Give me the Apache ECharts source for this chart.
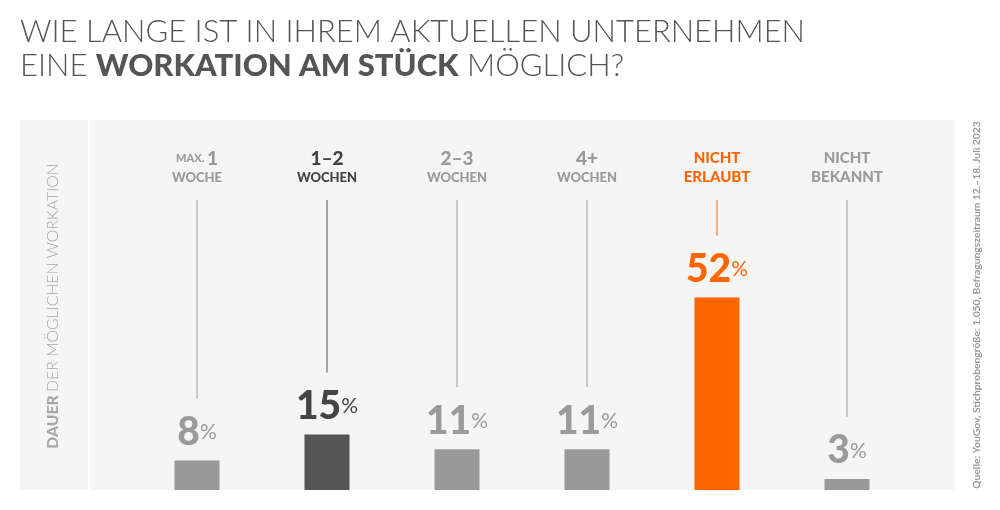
<!DOCTYPE html>
<html lang="de">
<head>
<meta charset="UTF-8">
<title>Workation am Stück</title>
<script src="https://cdn.jsdelivr.net/npm/echarts@6/dist/echarts.min.js"></script>
<style>
  html, body { margin: 0; padding: 0; background: #fff; }
  #chart { width: 1000px; height: 510px; }
</style>
</head>
<body>
<div id="chart"></div>
<script>
// Daten
var categories = ['MAX. 1\nWOCHE', '1–2\nWOCHEN', '2–3\nWOCHEN', '4+\nWOCHEN', 'NICHT\nERLAUBT', 'NICHT\nBEKANNT'];
var values = [8, 15, 11, 11, 52, 3];
var tones = ['g', 'd', 'g', 'g', 'o', 'g'];   // grau / dunkel / orange

var colors = { g: '#999999', d: '#555555', o: '#ff6600' };
var textColors = { g: '#9a9a9a', d: '#444444', o: '#ff6600' };
var lineTop = 78.4;   // oberes Ende der Hilfslinien (Achsenwert)
var font = 'Lato, "Open Sans", sans-serif';

var chart = echarts.init(document.getElementById('chart'));

// rich styles fuer Kategorie- und Wertebeschriftung
var axisRich = {}, valueRich = {};
['g', 'd', 'o'].forEach(function(t) {
  axisRich[t + 'big'] = { fontFamily: font, fontWeight: 900, fontSize: 19, color: textColors[t], lineHeight: 19 };
  axisRich[t + 'mid'] = { fontFamily: font, fontWeight: 900, fontSize: 15, color: textColors[t], lineHeight: 19 };
  axisRich[t + 'sm'] = { fontFamily: font, fontWeight: 900, fontSize: 13, color: textColors[t], lineHeight: 19 };
  axisRich[t + 'xs'] = { fontFamily: font, fontWeight: 900, fontSize: 11, color: textColors[t], lineHeight: 19 };
  valueRich['n' + t] = { fontFamily: font, fontWeight: 900, fontSize: 39, color: textColors[t], lineHeight: 40 };
  valueRich['p' + t] = { fontFamily: font, fontWeight: 400, fontSize: 21, color: textColors[t], lineHeight: 40 };
});

function axisFormatter(value, index) {
  var t = tones[index];
  var lines = value.split('\n');
  var first = lines[0];
  var top;
  if (first.indexOf('MAX.') === 0) {
    top = '{' + t + 'xs|MAX. }{' + t + 'big|' + first.slice(5) + '}';
  } else if (/^[0-9]/.test(first)) {
    top = '{' + t + 'big|' + first + '}';
  } else {
    top = '{' + t + 'mid|' + first + '}';
  }
  var bottom = /^[0-9]/.test(first) || first.indexOf('MAX.') === 0
    ? '{' + t + 'sm|' + lines[1] + '}'
    : '{' + t + 'mid|' + lines[1] + '}';
  return top + '\n' + bottom;
}

var option = {
  backgroundColor: '#ffffff',
  animation: false,
  title: {
    left: 15,
    top: 10,
    text: '{l|WIE LANGE IST IN IHREM AKTUELLEN UNTERNEHMEN}\n{l|EINE }{b|WORKATION AM STÜCK}{l| MÖGLICH?}',
    textStyle: {
      rich: {
        l: { fontFamily: font, fontWeight: 300, fontSize: 31, color: '#555555', lineHeight: 34 },
        b: { fontFamily: font, fontWeight: 900, fontSize: 31, color: '#555555', lineHeight: 34 }
      }
    }
  },
  graphic: [
    { type: 'rect', z: -10, shape: { x: 20, y: 120, width: 935, height: 370 }, style: { fill: '#f5f5f5' } },
    { type: 'rect', z: -9, shape: { x: 88, y: 120, width: 2, height: 370 }, style: { fill: '#ffffff' } },
    {
      type: 'text', x: 53, y: 306, rotation: Math.PI / 2,
      style: {
        text: '{b|DAUER} {l|DER MÖGLICHEN WORKATION}',
        align: 'center', verticalAlign: 'middle',
        rich: {
          b: { fontFamily: font, fontWeight: 900, fontSize: 15.8, fill: '#a8a8a8' },
          l: { fontFamily: font, fontWeight: 300, fontSize: 15.8, fill: '#a8a8a8' }
        }
      }
    },
    {
      type: 'text', x: 977, y: 305, rotation: Math.PI / 2,
      style: {
        text: 'Quelle: YouGov, Stichprobengröße: 1.050, Befragungszeitraum 12.–18. Juli 2023',
        align: 'center', verticalAlign: 'middle',
        fontFamily: font, fontWeight: 700, fontSize: 10.3, fill: '#9a9a9a'
      }
    }
  ],
  grid: { left: 132, right: 88, top: 120, bottom: 20 },
  xAxis: {
    type: 'category',
    data: categories,
    position: 'top',
    offset: -67,
    axisLine: { show: false },
    axisTick: { show: false },
    splitLine: { show: false },
    axisLabel: { interval: 0, margin: 0, verticalAlign: 'bottom', formatter: axisFormatter, rich: axisRich }
  },
  yAxis: {
    type: 'value',
    min: 0,
    max: 100,
    show: false
  },
  series: [
    {
      type: 'bar',
      barWidth: 45,
      data: values.map(function(v, i) {
        return { value: v, itemStyle: { color: colors[tones[i]] } };
      }),
      label: {
        show: true,
        position: 'top',
        distance: 8,
        formatter: function(p) {
          var t = tones[p.dataIndex];
          return '{n' + t + '|' + p.value + '}{p' + t + '|%}';
        },
        rich: valueRich
      }
    },
    {
      // Hilfslinien von der Kategorie bis zum Wert
      type: 'custom',
      silent: true,
      data: values.map(function(v, i) { return [i, v]; }),
      renderItem: function(params, api) {
        var i = api.value(0);
        var top = api.coord([i, lineTop]);
        var end = api.coord([i, api.value(1)]);
        return {
          type: 'line',
          shape: { x1: top[0], y1: top[1], x2: top[0], y2: end[1] - 62 },
          style: { stroke: colors[tones[i]], lineWidth: 1 }
        };
      }
    }
  ]
};

chart.setOption(option);
</script>
</body>
</html>
